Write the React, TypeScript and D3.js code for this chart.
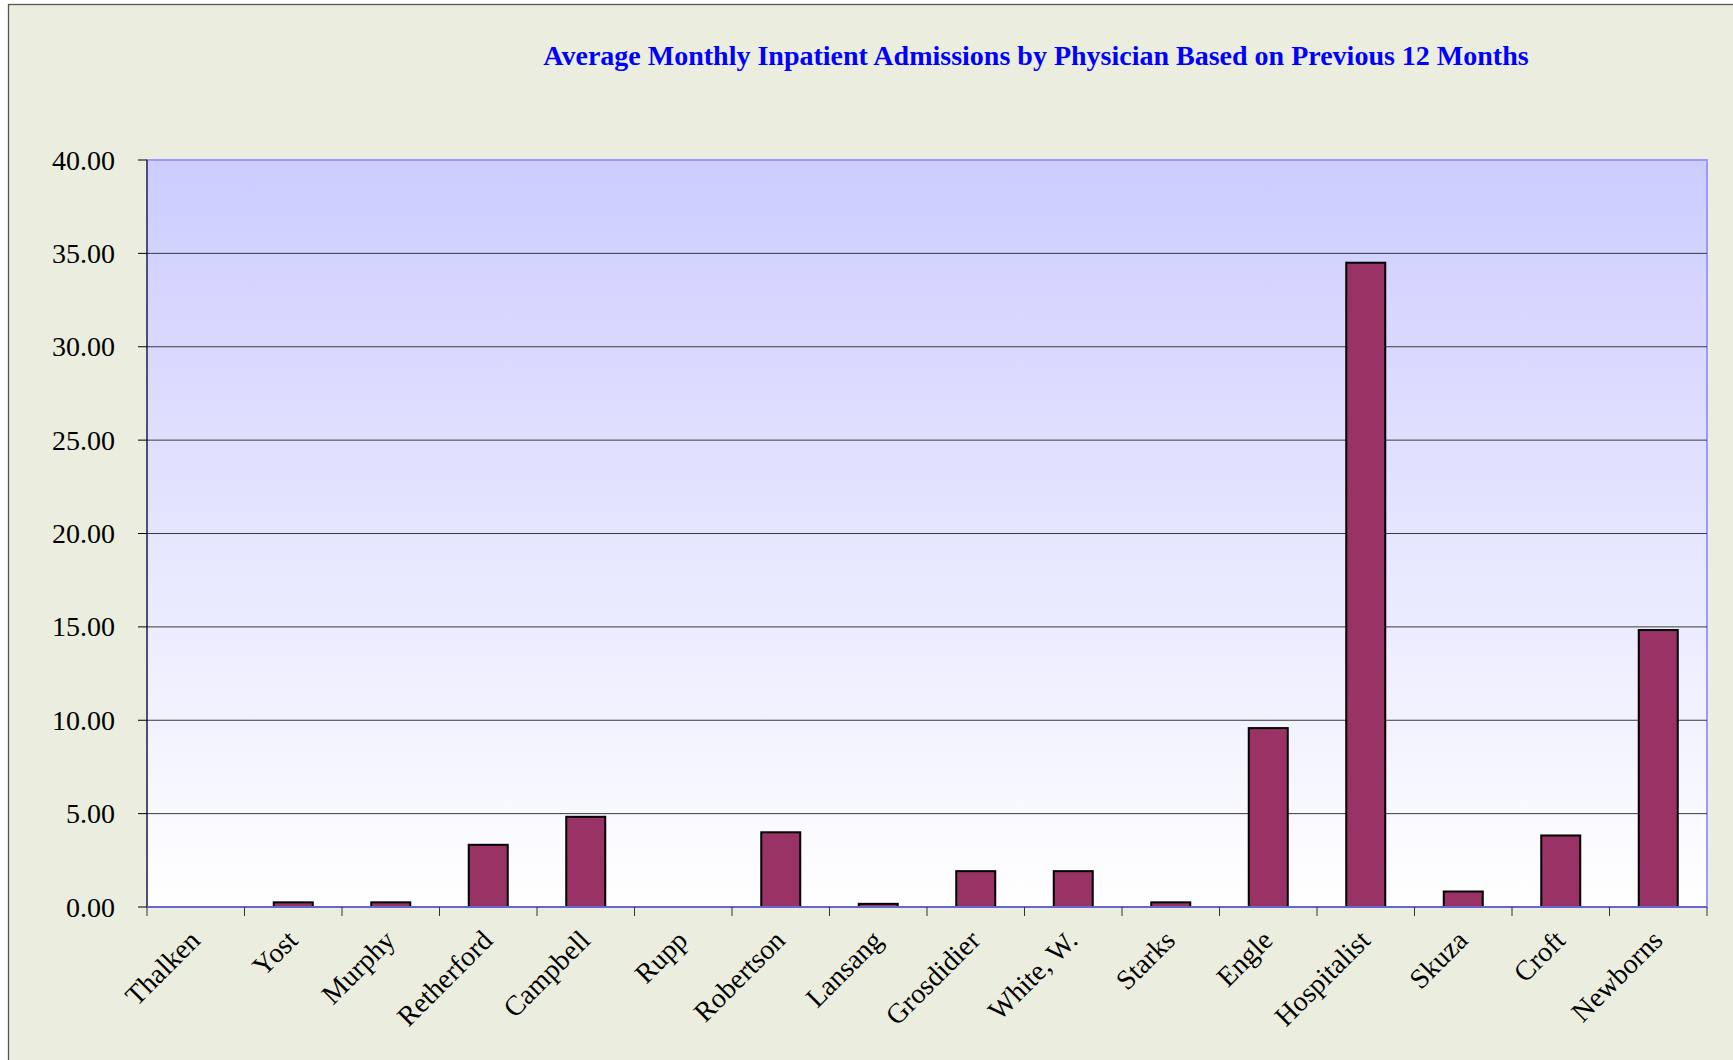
import React from "react";
import * as d3 from "d3";

const physicians: string[] = [
  "Thalken", "Yost", "Murphy", "Retherford", "Campbell", "Rupp", "Robertson", "Lansang",
  "Grosdidier", "White, W.", "Starks", "Engle", "Hospitalist", "Skuza", "Croft", "Newborns",
];
const admissions: number[] = [
  0, 0.25, 0.25, 3.33, 4.83, 0, 4.0, 0.17, 1.92, 1.92, 0.25, 9.58, 34.5, 0.83, 3.83, 14.83,
];
const yTicks: number[] = [0, 5, 10, 15, 20, 25, 30, 35, 40];
const titleText = "Average Monthly Inpatient Admissions by Physician Based on Previous 12 Months";

const W = 1733;
const H = 1060;
const plot = { left: 147, top: 160, right: 1707, bottom: 907 };
const FONT = "'Liberation Serif', 'Times New Roman', serif";

export default function App() {
  const x = d3.scaleBand<string>().domain(physicians).range([plot.left, plot.right]).padding(0);
  const y = d3.scaleLinear().domain([0, 40]).range([plot.bottom, plot.top]);
  const bw = x.bandwidth() * 0.4;

  return (
    <svg
      width={W}
      height={H}
      style={{ position: "absolute", left: 0, top: 0, display: "block" }}
      xmlns="http://www.w3.org/2000/svg"
    >
      <defs>
        <linearGradient id="plotGrad" x1="0" y1="0" x2="0" y2="1">
          <stop offset="0%" stopColor="#CCCCFF" />
          <stop offset="100%" stopColor="#FFFFFF" />
        </linearGradient>
      </defs>
      <rect x={0} y={0} width={W} height={H} fill="#FFFFFF" />
      <rect x={8.5} y={4.5} width={W} height={H} fill="#EBEEDF" stroke="#555" strokeWidth={1.3} />

      <text
        x={1036}
        y={65}
        textAnchor="middle"
        fontFamily={FONT}
        fontWeight="bold"
        fontSize={28}
        fill="#0000FF"
      >
        {titleText}
      </text>

      <rect
        x={plot.left}
        y={plot.top}
        width={plot.right - plot.left}
        height={plot.bottom - plot.top}
        fill="url(#plotGrad)"
        stroke="#9999FF"
        strokeWidth={2}
      />

      {yTicks.filter((t) => t > 0 && t < 40).map((t) => (
        <line key={"g" + t} x1={plot.left} x2={plot.right} y1={y(t)} y2={y(t)} stroke="#3a3a3a" strokeWidth={1} />
      ))}

      {physicians.map((p, i) => {
        const v = admissions[i];
        if (v <= 0) return null;
        const cx = (x(p) as number) + x.bandwidth() / 2;
        return (
          <rect
            key={"b" + p}
            x={cx - bw / 2}
            y={y(v)}
            width={bw}
            height={y(0) - y(v)}
            fill="#993366"
            stroke="#000"
            strokeWidth={2}
          />
        );
      })}

      {/* y axis */}
      <line x1={plot.left} x2={plot.left} y1={plot.top} y2={plot.bottom} stroke="#000" strokeWidth={1} />
      {yTicks.map((t) => (
        <g key={"yt" + t}>
          <line x1={plot.left - 9} x2={plot.left} y1={y(t)} y2={y(t)} stroke="#000" strokeWidth={1} />
          <text
            x={115}
            y={y(t)}
            textAnchor="end"
            dominantBaseline="central"
            fontFamily={FONT}
            fontSize={28}
            fill="#000"
          >
            {t.toFixed(2)}
          </text>
        </g>
      ))}

      {/* x axis */}
      <line x1={plot.left} x2={plot.right} y1={plot.bottom} y2={plot.bottom} stroke="#6666CC" strokeWidth={2} />
      {physicians.concat([""]).map((p, i) => {
        const xx = plot.left + i * x.bandwidth();
        return <line key={"xt" + i} x1={xx} x2={xx} y1={plot.bottom} y2={plot.bottom + 9} stroke="#333" strokeWidth={1} />;
      })}
      {physicians.map((p) => {
        const cx = (x(p) as number) + x.bandwidth() / 2;
        const ax = cx + 6;
        const ay = plot.bottom + 35;
        return (
          <text
            key={"xl" + p}
            x={ax}
            y={ay}
            textAnchor="end"
            transform={`rotate(-45 ${ax} ${ay})`}
            fontFamily={FONT}
            fontSize={28}
            fill="#000"
          >
            {p}
          </text>
        );
      })}
    </svg>
  );
}
